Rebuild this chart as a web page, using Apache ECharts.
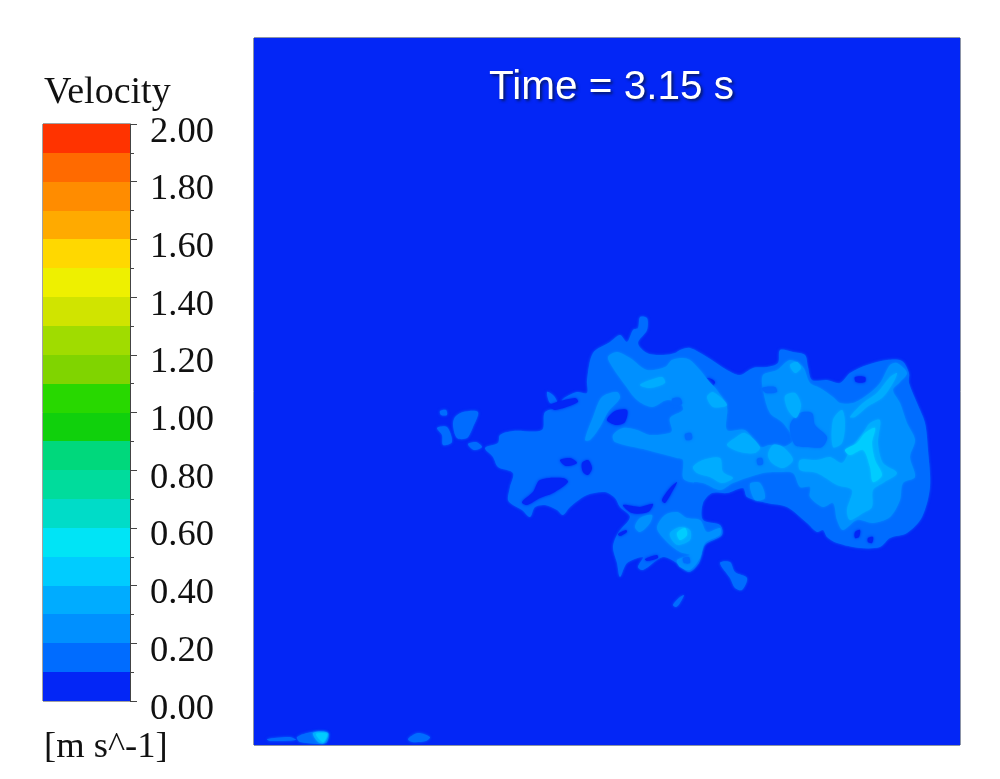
<!DOCTYPE html>
<html>
<head>
<meta charset="utf-8">
<title>Velocity contour</title>
<script type="text/javascript" src="https://cdn.jsdelivr.net/npm/echarts@6/dist/echarts.min.js"></script>
<style>
    html,body{margin:0;padding:0;background:#fff;}
    #mychart{width:1000px;height:779px;}
</style>
</head>
<body>
<div id="mychart"></div>
<script>
    // colour bar, 0 to 2 m/s in steps of 0.1
    var bandLower = [0,0.1,0.2,0.3,0.4,0.5,0.6,0.7,0.8,0.9,1,1.1,1.2,1.3,1.4,1.5,1.6,1.7,1.8,1.9];
    var bandColors = ['#0326f6','#006cff','#0090ff','#00acff','#00ccff','#00e4f6','#00dcc8','#00dc9c','#00d87c','#10d00c',
        '#28d800','#80d400','#a0dc00','#d0e400','#eef000','#ffd800','#ffaa00','#ff8c00','#ff6a00','#ff3300'];
    var tickLabels = ['0.00','0.20','0.40','0.60','0.80','1.00','1.20','1.40','1.60','1.80','2.00'];

    // field contours, one velocity band per group
    var fieldDomain = [[254,38],[960,38],[960,745],[254,745]];

    var level1Rings = [
        // main plume
        [[485,448],[498,443],[500,435],[513,431],[542,430],[545,412],[563,407],[562,400],[577,392],[587,393],[587,380],[593,353],[610,342],[620,335],[627,342],[633,330],[638,328],[640,317],[647,318],[647,330],[638,343],[647,353],[663,355],[675,353],[680,350],[690,348],[707,357],[727,370],[740,375],[753,368],[767,367],[778,363],[780,350],[793,352],[805,355],[808,367],[812,380],[827,380],[840,383],[850,373],[867,365],[887,360],[902,361],[909,373],[909,383],[917,403],[925,423],[928,450],[930,487],[922,517],[907,533],[890,538],[880,547],[860,548],[837,543],[827,537],[823,530],[817,532],[807,523],[787,507],[767,503],[747,497],[743,488],[727,493],[712,493],[703,503],[703,520],[720,525],[722,535],[705,545],[699,563],[689,572],[677,563],[663,557],[643,570],[638,567],[643,557],[627,563],[620,577],[617,563],[613,547],[618,533],[630,517],[620,507],[615,498],[605,492],[587,495],[570,507],[563,515],[557,510],[545,505],[535,507],[530,517],[522,510],[513,505],[508,500],[510,487],[513,473],[498,467],[493,457]],
        // islands on the left
        [[453,425],[455,417],[463,412],[478,412],[473,427],[467,438],[457,438]],
        [[437,428],[447,427],[452,442],[443,445],[442,435]],
        [[468,444],[476,442],[482,447],[474,450]],
        [[440,411],[446,410],[447,415],[441,415]],
        [[547,392],[553,395],[557,402],[550,403]],
        // islands below
        [[720,563],[730,562],[735,572],[747,578],[742,590],[735,588],[730,578]],
        [[673,605],[680,597],[684,595],[680,603],[676,607]],
        // bottom wall
        [[297,737],[312,732],[328,733],[326,743],[300,742]],
        [[408,739],[418,733],[430,737],[426,741],[412,742]],
        [[267,739],[290,737],[296,740],[270,741]]
    ];

    var holeRings = [
        [[522,502],[533,492],[540,480],[563,478],[568,482],[553,493],[540,498],[527,505]],
        [[560,460],[570,458],[577,463],[566,466]],
        [[582,463],[588,460],[592,468],[588,475],[583,472]],
        [[607,420],[615,411],[627,410],[625,422],[616,425]],
        [[623,505],[640,507],[653,504],[648,512],[632,513]],
        [[550,405],[575,398],[578,402],[555,410]],
        [[662,500],[670,488],[677,482],[672,492],[665,503]],
        [[700,381],[708,378],[715,382],[710,388],[702,387]],
        [[713,414],[720,410],[725,416],[720,422],[714,420]],
        [[855,532],[860,530],[859,537],[855,538]],
        [[868,538],[873,537],[872,543],[868,542]],
        [[855,377],[865,377],[865,382],[856,382]],
        [[645,559],[657,555],[658,558],[647,561]],
        [[618,534],[626,530],[627,532],[620,536]]
    ];

    var level2Rings = [
        // wedge, central band, upper middle and right core in one piece
        [[608,357],[617,352],[630,358],[647,370],[665,367],[672,360],[683,358],[690,360],[700,370],[708,380],[717,390],[727,407],[727,430],[745,430],[760,447],[770,445],[783,447],[793,440],[783,423],[770,413],[763,390],[763,375],[777,370],[790,360],[803,367],[810,383],[820,388],[833,397],[840,403],[853,403],[867,395],[880,383],[890,365],[897,363],[907,373],[900,382],[893,390],[900,403],[907,423],[915,440],[910,457],[915,477],[903,483],[900,500],[890,517],[873,523],[857,520],[843,530],[837,520],[833,503],[823,507],[810,497],[810,487],[800,487],[793,473],[780,472],[763,473],[733,483],[720,490],[703,483],[690,482],[683,478],[683,460],[677,458],[647,450],[615,442],[613,435],[623,428],[637,430],[650,435],[670,433],[672,430],[670,418],[683,410],[680,403],[667,400],[652,407],[637,400],[625,385],[613,368]],
        // lower lobe
        [[657,528],[665,515],[677,512],[687,518],[700,520],[707,532],[720,528],[720,535],[705,543],[700,558],[690,570],[680,567],[677,560],[690,555],[680,552],[667,542]],
        [[635,527],[640,518],[652,515],[650,523],[640,532]],
        // stripe on the left
        [[585,440],[593,417],[602,397],[617,392],[620,398],[608,412],[600,427],[590,440]],
        // small blobs
        [[750,484],[760,483],[765,498],[755,500]]
    ];

    // darker spots left inside the band above
    var patch1Rings = [
        [[790,425],[800,413],[812,413],[815,425],[827,437],[822,447],[808,447],[795,445]],
        [[672,399],[680,398],[682,404],[674,405]],
        [[685,434],[691,433],[692,439],[686,440]],
        [[757,459],[762,458],[763,464],[758,465]],
        [[762,388],[775,387],[777,392],[766,393]],
        [[683,558],[689,557],[690,563],[684,563]]
    ];

    var level3Rings = [
        // right core with its branch to the left
        [[800,460],[817,460],[830,457],[842,463],[850,450],[863,433],[870,423],[880,420],[878,443],[883,463],[897,473],[883,483],[873,490],[872,507],[863,513],[850,520],[847,510],[852,490],[837,485],[817,473],[800,470]],
        [[850,417],[863,403],[877,393],[890,377],[897,373],[893,383],[883,397],[867,407],[855,417]],
        [[833,420],[842,410],[845,423],[842,443],[833,447]],
        [[727,445],[735,438],[745,433],[760,447],[755,453],[740,452]],
        [[768,455],[773,445],[783,447],[793,460],[783,468],[772,463]],
        [[693,467],[703,460],[720,458],[723,472],[733,478],[722,483],[710,477],[697,473]],
        [[785,396],[795,393],[801,405],[796,418],[788,410]],
        [[707,397],[713,392],[727,405],[713,407]],
        [[670,533],[680,527],[690,530],[690,540],[678,545],[672,540]],
        [[640,385],[650,380],[662,377],[665,383],[650,388]],
        [[790,365],[797,362],[801,368],[795,373]],
        [[313,733],[328,733],[324,743],[318,742]]
    ];

    var level4Rings = [
        [[845,450],[857,443],[865,433],[875,428],[872,443],[875,460],[882,475],[873,482],[870,467],[863,450],[850,455]],
        [[677,533],[685,528],[687,535],[680,540]],
        [[316,734],[327,734],[323,742]]
    ];

    var contourRings = [].concat(
        [{band:0,pts:fieldDomain}],
        level1Rings.map(function(r){return {band:1,pts:r};}),
        holeRings.map(function(r){return {band:0,pts:r};}),
        level2Rings.map(function(r){return {band:2,pts:r};}),
        patch1Rings.map(function(r){return {band:1,pts:r};}),
        level3Rings.map(function(r){return {band:3,pts:r};}),
        level4Rings.map(function(r){return {band:4,pts:r};})
    );

    var serif = '"Liberation Serif","Times New Roman",serif';
    var mychart = echarts.init(document.getElementById('mychart'));

    function renderBand(params, api){
        var a = api.coord([0, api.value(1)]);
        var b = api.coord([1, api.value(0)]);
        var top = Math.round(a[1]), bottom = Math.round(b[1]);
        return {
            type: 'rect',
            shape: {x: a[0], y: top, width: b[0]-a[0], height: bottom-top},
            style: {fill: bandColors[params.dataIndex]}
        };
    }
    function renderRing(params, api){
        var ring = contourRings[params.dataIndex];
        var isDomain = params.dataIndex === 0;
        return {
            type: 'polygon',
            shape: {
                points: ring.pts.map(function(p){return api.coord(p);}),
                smooth: isDomain ? 0 : 0.3
            },
            style: {
                fill: bandColors[ring.band],
                shadowBlur: isDomain ? 0 : 3,
                shadowColor: bandColors[ring.band]
            }
        };
    }

    var option = {
        animation: false,
        backgroundColor: '#fff',
        title: [
            {text:'Velocity', left:44, top:74, padding:0, textStyle:{fontFamily:serif,fontSize:38,fontWeight:'normal',color:'#111'}},
            {text:'[m s^-1]', left:44, top:729, padding:0, textStyle:{fontFamily:serif,fontSize:36.5,fontWeight:'normal',color:'#111'}},
            {text:'Time = 3.15 s', left:489, top:67, padding:0, z:10, textStyle:{
                fontFamily:'"Liberation Sans",Arial,sans-serif',fontSize:40.5,fontWeight:'normal',color:'#fff',
                textShadowColor:'#061a66',textShadowBlur:3,textShadowOffsetX:2,textShadowOffsetY:2}}
        ],
        grid: [
            {left:43, top:124, width:87, height:577, show:true, borderColor:'#444', borderWidth:1, backgroundColor:'transparent'},
            {left:254, top:38, width:706, height:707, show:true, borderColor:'#1a2a50', borderWidth:1, backgroundColor:'transparent'}
        ],
        xAxis: [
            {gridIndex:0, type:'value', min:0, max:1, show:false},
            {gridIndex:1, type:'value', min:254, max:960, show:false}
        ],
        yAxis: [
            {gridIndex:0, type:'value', min:0, max:2, interval:0.2, position:'right',
                axisLine:{show:true,onZero:false,lineStyle:{color:'#444',width:1}},
                axisTick:{show:true,length:7,lineStyle:{color:'#444',width:1}},
                minorTick:{show:true,splitNumber:2,length:4,lineStyle:{color:'#444',width:1}},
                splitLine:{show:false},
                axisLabel:{
                    show:true, margin:20, color:'#111', fontFamily:serif, fontSize:36.5,
                    verticalAlign:'top', lineHeight:16,
                    formatter:function(v){return tickLabels[Math.round(v/0.2)];}
                }},
            {gridIndex:1, type:'value', min:38, max:745, inverse:true, show:false}
        ],
        series: [
            {
                type:'custom', xAxisIndex:0, yAxisIndex:0, silent:true, clip:false,
                data: bandLower.map(function(v){return [v, v+0.1];}),
                encode:{y:[0,1]},
                renderItem: renderBand
            },
            {
                type:'custom', xAxisIndex:1, yAxisIndex:1, silent:true, clip:true,
                data: contourRings.map(function(r,i){return [i];}),
                encode:{x:-1,y:-1},
                renderItem: renderRing
            }
        ]
    };
    mychart.setOption(option);
</script>
</body>
</html>
